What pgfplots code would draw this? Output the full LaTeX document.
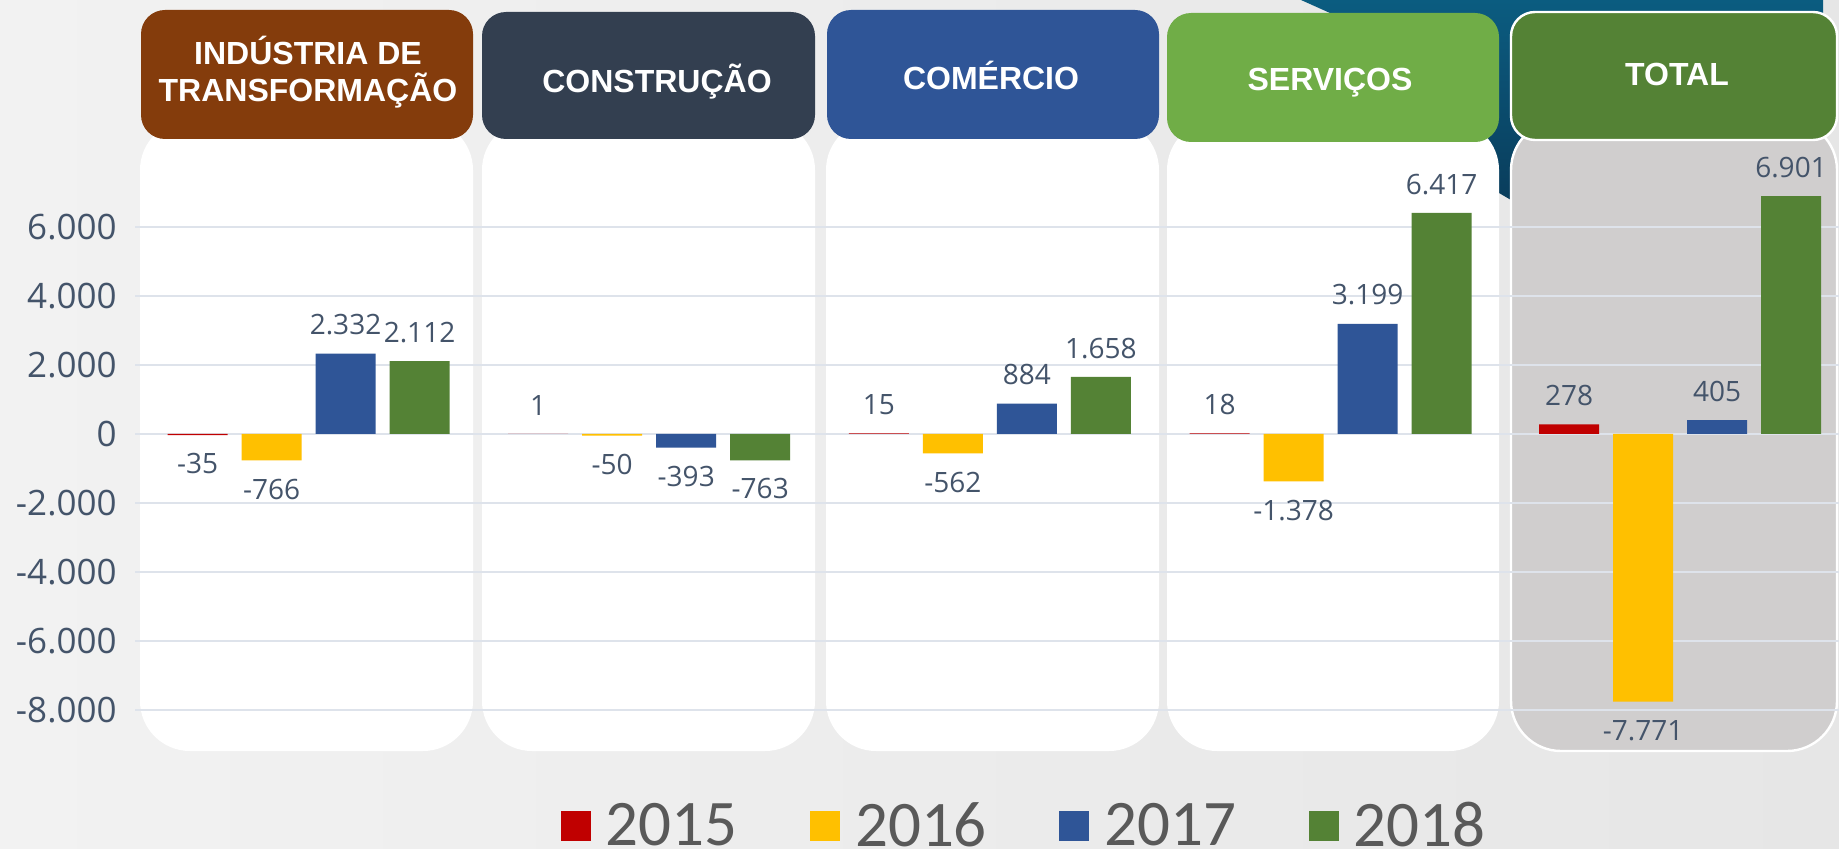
\documentclass[border=0pt]{standalone}
\usepackage{pgfplots}
\pgfplotsset{compat=1.18}
\usepackage{fontspec}
\setmainfont{Open Sans}
\newfontfamily\carlito{Carlito}
\newfontfamily\hdrfont{Liberation Sans}
\definecolor{c15}{HTML}{C00000}
\definecolor{c16}{HTML}{FFC000}
\definecolor{c17}{HTML}{2F5597}
\definecolor{c18}{HTML}{548235}
\definecolor{hIND}{HTML}{843C0C}
\definecolor{hCON}{HTML}{333F50}
\definecolor{hCOM}{HTML}{2F5597}
\definecolor{hSER}{HTML}{70AD47}
\definecolor{hTOT}{HTML}{548235}
\definecolor{gridc}{HTML}{DEE3EB}
\definecolor{txtc}{HTML}{44546A}
\definecolor{legc}{HTML}{595959}
\definecolor{totbg}{HTML}{D0CECE}
\definecolor{bgL}{HTML}{F2F2F2}
\definecolor{bgR}{HTML}{E6E6E6}
\definecolor{decoA}{HTML}{0B5C80}
\definecolor{decoB}{HTML}{0A3D5C}
\begin{document}
\begin{tikzpicture}
\begin{scope}[x=0.5pt,y=0.5pt]
\shade[left color=bgL, right color=bgR] (0,0) rectangle (1839,848);
% decorative shape top right
\shade[top color=decoA, bottom color=decoB] (1301,848) -- (1823,848) -- (1823,700) -- (1511,648) -- (1499,655) -- (1330,835) -- cycle;
% panel bodies
\fill[white, rounded corners=25pt] (140,97) rectangle (473,728);
\fill[white, rounded corners=25pt] (482,97) rectangle (815,728);
\fill[white, rounded corners=25pt] (826,97) rectangle (1159,728);
\fill[white, rounded corners=25pt] (1167,97) rectangle (1499,728);
\filldraw[fill=totbg, draw=white, line width=1.2pt, rounded corners=25pt] (1511,97) rectangle (1837,728);
% headers
\fill[hIND, rounded corners=12pt] (141,709) rectangle (473,838);
\fill[hCON, rounded corners=12pt] (482,709) rectangle (815,836);
\fill[hCOM, rounded corners=12pt] (827,709) rectangle (1159,838);
\fill[hSER, rounded corners=12pt] (1167,706) rectangle (1499,835);
\filldraw[fill=hTOT, draw=white, line width=1.2pt, rounded corners=12pt] (1511,708) rectangle (1837,836);
\tikzset{hdr/.style={anchor=base, text=white, inner sep=0pt, font=\hdrfont\bfseries\fontsize{16}{18}\selectfont}}
\node[hdr] at (308,783) {INDÚSTRIA DE};
\node[hdr] at (308,746) {TRANSFORMAÇÃO};
\node[hdr] at (657,755) {CONSTRUÇÃO};
\node[hdr] at (991,758) {COMÉRCIO};
\node[hdr] at (1330,757) {SERVIÇOS};
\node[hdr] at (1677,762) {TOTAL};
\end{scope}
\begin{axis}[
  at={(67.5pt,69.2pt)}, anchor=south west,
  scale only axis, width=852pt, height=275.6pt,
  xmin=-0.5093, xmax=4.4922, ymin=-8000, ymax=8000,
  ybar=7pt, bar width=30pt,
  axis line style={draw=none},
  major tick length=0pt,
  xtick=\empty,
  ytick={-8000,-6000,-4000,-2000,0,2000,4000,6000},
  ymajorgrids,
  major grid style={draw=gridc, line width=1pt},
  scaled y ticks=false,
  /pgf/number format/.cd, 1000 sep={.}, assume math mode=true, /pgfplots/.cd,
  yticklabel style={font=\fontsize{17.5}{20}\selectfont, text=txtc, inner sep=0pt, xshift=-9pt},
  nodes near coords,
  every node near coord/.append style={font=\fontsize{14}{16}\selectfont, text=txtc, inner sep=9pt},
  clip=false,
  legend columns=4,
  legend style={at={(rel axis cs:0.5212,-0.2114)}, anchor=center, draw=none, fill=none, inner sep=0pt,
    font=\carlito\fontsize{32.5}{36}\selectfont, text=legc, nodes={inner sep=0pt},
    /tikz/every even column/.append style={column sep=36.25pt}},
  every axis plot post/.append style={legend image code/.code={\path[draw=none,fill=none] (0pt,0pt) -- (22.5pt,0pt); \fill[##1,/tikz/.cd, draw=none] (0pt,-7.5pt) rectangle (15pt,7.5pt);}},
]
\addplot[fill=c15, draw=none] coordinates {(0,-35) (1,1) (2,15) (3,18) (4.0255,278)};
\addplot[fill=c16, draw=none] coordinates {(0,-766) (1,-50) (2,-562) (3,-1378) (4.0255,-7771)};
\addplot[fill=c17, draw=none] coordinates {(0,2332) (1,-393) (2,884) (3,3199) (4.0255,405)};
\addplot[fill=c18, draw=none] coordinates {(0,2112) (1,-763) (2,1658) (3,6417) (4.0255,6901)};
\legend{2015,2016,2017,2018}
\end{axis}
\pgfresetboundingbox
\path[use as bounding box] (0pt,0pt) rectangle (919.5pt,424pt);
\end{tikzpicture}
\end{document}
